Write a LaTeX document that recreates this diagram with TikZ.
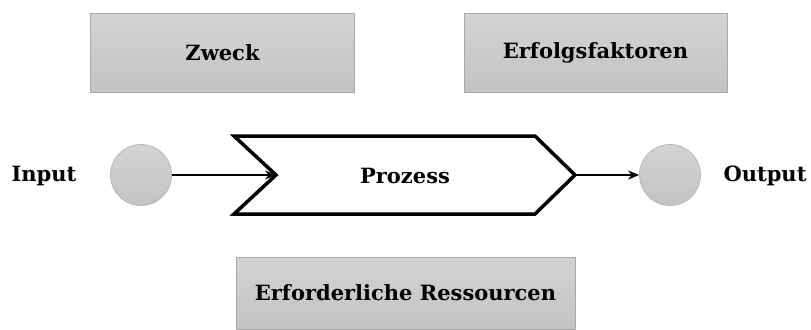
\documentclass[tikz,border=0pt]{standalone}
\usepackage{fontspec}
\setmainfont{DejaVu Serif}
\usetikzlibrary{arrows.meta}
\definecolor{boxtop}{HTML}{D3D3D3}
\definecolor{boxbot}{HTML}{C3C3C3}
\definecolor{boxline}{HTML}{A8A8A8}
\tikzset{
  graybox/.style={draw=boxline, line width=1bp, top color=boxtop, bottom color=boxbot, inner sep=0pt},
  dot/.style={circle, draw=boxline!80, line width=0.8bp, top color=boxtop, bottom color=boxbot, minimum size=61bp, inner sep=0pt},
  lbl/.style={font=\fontsize{21bp}{24bp}\selectfont\bfseries, text=black},
  conn/.style={line width=2bp, -{Stealth[length=11bp,width=9bp]}},
}
\begin{document}
\begin{tikzpicture}[x=1bp,y=-1bp]
\useasboundingbox (0,0) rectangle (811,329);
% boxes
\node[graybox, minimum width=263bp, minimum height=79bp] (zweck) at (222.5,52.5) {};
\node[lbl] at (zweck.center) {Zweck};
\node[graybox, minimum width=263bp, minimum height=79bp] (erfolg) at (595.5,52.5) {};
\node[lbl] at (erfolg.center) {Erfolgsfaktoren};
\node[graybox, minimum width=339bp, minimum height=72bp] (ress) at (405.5,293) {};
\node[lbl] at (ress.center) {Erforderliche Ressourcen};
% circles
\node[dot] (in) at (141,175) {};
\node[dot] (out) at (670,175) {};
\node[lbl, anchor=center] (inlbl) at (44,176) {Input};
\node[lbl, anchor=center] (outlbl) at (765,176) {Output};
% process chevron
\coordinate (notch) at (276,175);
\coordinate (tip) at (575,175);
\draw[line width=3.5bp, line join=miter, fill=white]
  (234,136) -- (535,136) -- (tip) -- (535,214) -- (234,214) -- (notch) -- cycle;
\node[lbl] (proz) at (405,176) {Prozess};
% connectors
\draw[conn] (in.east) -- (notch);
\draw[conn] (tip) -- (out.west);
\end{tikzpicture}
\end{document}
